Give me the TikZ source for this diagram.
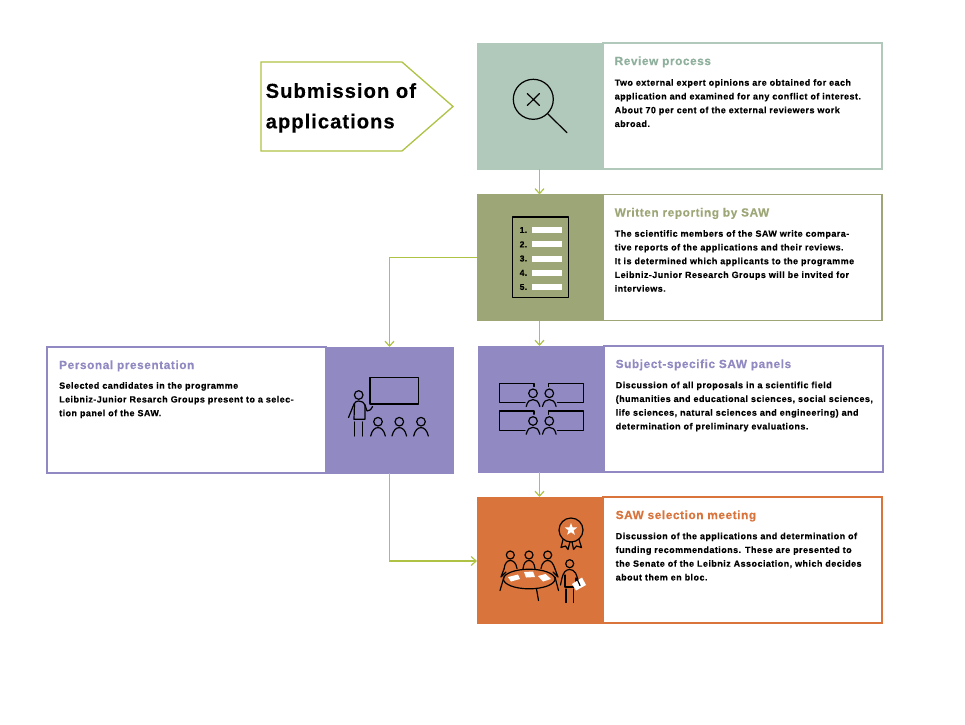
\documentclass[tikz,border=0pt]{standalone}
\usepackage{fontspec}
\setmainfont{Liberation Sans}[BoldFont={Liberation Sans Bold},BoldFeatures={FakeBold=0.25},LetterSpace=5]
\usetikzlibrary{arrows.meta,shapes.geometric}
\definecolor{cgreen}{HTML}{B0C9BA}
\definecolor{cgreent}{HTML}{8FB09C}
\definecolor{colive}{HTML}{9DA676}
\definecolor{cpurple}{HTML}{9189C2}
\definecolor{corange}{HTML}{D9743C}
\definecolor{clime}{HTML}{AFC244}
\tikzset{
  iconbox/.style={draw=#1,fill=#1,line width=0.8pt,minimum height=126pt,inner sep=0pt,outer sep=0pt,anchor=north west},
  textbox/.style={draw=#1,fill=white,line width=1.2pt,minimum height=126pt,inner sep=0pt,outer sep=0pt,anchor=north west},
  boxtitle/.style={anchor=base west,inner sep=0pt,text=#1,font=\bfseries\fontsize{11.8}{13}\selectfont},
  boxbody/.style={anchor=north west,inner sep=0pt,align=left,font=\bfseries\fontsize{9}{13.75}\selectfont,execute at begin node={\rule{0pt}{7pt}}},
  flow/.style={draw=clime,line width=1.2pt,-{Straight Barb[length=5pt,width=9pt,line width=1.2pt]}},
  ico/.style={draw=black,line width=1.2pt,line cap=round,line join=round},
  paper/.style={fill=white,draw=none},
}
\begin{document}
\begin{tikzpicture}[x=1pt,y=-1pt]
\useasboundingbox (0,0) rectangle (965,724);
% pentagon
\node[inner sep=0pt,anchor=north west,align=left,font=\bfseries\fontsize{20.2}{30.5}\selectfont,execute at begin node={\rule{0pt}{16pt}}] (subm) at (265.5,83) {Submission of\\applications};
\draw[clime,line width=1.3pt,line join=miter] (261,62) -- (402,62) -- (453,106.5) -- (402,151) -- (261,151) -- cycle;
% boxes
\node[textbox=cgreen,minimum width=279pt] (rt) at (603,43) {};
\node[iconbox=cgreen,minimum width=126pt] (ri) at (477,43) {};
\node[textbox=colive,minimum width=279pt] (wt) at (603,194.5) {};
\node[iconbox=colive,minimum width=126pt] (wi) at (477,194.5) {};
\node[textbox=cpurple,minimum width=279pt] (st) at (604,346) {};
\node[iconbox=cpurple,minimum width=126pt] (si) at (478,346) {};
\node[textbox=corange,minimum width=279pt] (mt) at (603,497) {};
\node[iconbox=corange,minimum width=126pt] (mi) at (477,497) {};
\node[textbox=cpurple,minimum width=279pt] (pt) at (47,347) {};
\node[iconbox=cpurple,minimum width=127pt] (pi) at (326,347) {};
% connectors
\coordinate (c0) at (539.5,0);
\draw[flow] (ri.south -| c0) -- (wi.north -| c0);
\draw[flow] (wi.south -| c0) -- (si.north -| c0);
\draw[flow] (si.south -| c0) -- (mi.north -| c0);
\coordinate (c1) at (389.5,257.5);
\draw[flow] (c1 -| wi.west) -- (c1) -- (c1 |- pi.north);
\coordinate (c2) at (389.5,561);
\draw[flow] (c2 |- pi.south) -- (c2) -- (c2 -| mi.west);
% texts
\node[boxtitle=cgreent] (rh) at (614.5,65) {Review process};
\node[boxbody] (rb) at (614.5,79) {Two external expert opinions are obtained for each\\application and examined for any conflict of interest.\\About 70 per cent of the external reviewers work\\abroad.};
\node[boxtitle=colive] (wh) at (614.5,216.5) {Written reporting by SAW};
\node[boxbody] (wb) at (614.5,230) {The scientific members of the SAW write compara-\\tive reports of the applications and their reviews.\\It is determined which applicants to the programme\\Leibniz-Junior Research Groups will be invited for\\interviews.};
\node[boxtitle=cpurple] (sh) at (615.5,368) {Subject-specific SAW panels};
\node[boxbody] (sb) at (615.5,381.5) {Discussion of all proposals in a scientific field\\(humanities and educational sciences, social sciences,\\life sciences, natural sciences and engineering) and\\determination of preliminary evaluations.};
\node[boxtitle=corange] (mh) at (615.5,519) {SAW selection meeting};
\node[boxbody] (mb) at (615.5,532.5) {Discussion of the applications and determination of\\funding recommendations. These are presented to\\the Senate of the Leibniz Association, which decides\\about them en bloc.};
\node[boxtitle=cpurple] (ph) at (59,369) {Personal presentation};
\node[boxbody] (pb) at (59,382) {Selected candidates in the programme\\Leibniz-Junior Resarch Groups present to a selec-\\tion panel of the SAW.};
% magnifier
\draw[ico] (533.3,99.3) circle (20);
\draw[ico] (547.7,113.8) -- (567,132.7);
\draw[ico] (527.3,93.5) -- (539.5,105.5) (539.5,93.5) -- (527.3,105.5);
% list
\draw[ico,line cap=butt] (512.7,217) rectangle (568.3,297.7);
\foreach \n/\y in {1/230,2/244.3,3/258.5,4/272.8,5/287}{
  \node[inner sep=0pt,font=\bfseries\fontsize{8.6}{10}\selectfont] (li\n) at (523.5,\y) {\n.};
  \fill[white] (531.7,\y-3) rectangle (561.7,\y+3);
}
% panels
\foreach \dy in {0,27.7}{
  \begin{scope}[yshift=-\dy pt]
  \draw[ico] (534,386.5) -- (534,383.3) -- (499.3,383.3) -- (499.3,402.7) -- (525,402.7);
  \draw[ico] (548.3,386.5) -- (548.3,383.3) -- (583.3,383.3) -- (583.3,402.7) -- (557.5,402.7);
  \foreach \x in {533,549.3}{
    \draw[ico] (\x,393.3) circle (4.3);
    \draw[ico] (\x-6.8,406.5) .. controls (\x-5.5,401) and (\x-3,399.6) .. (\x,399.6) .. controls (\x+3,399.6) and (\x+5.5,401) .. (\x+6.8,406.5);
  }
  \end{scope}
}
% presenter
\draw[ico,line cap=butt] (370,377.3) rectangle (418.3,404);
\draw[ico] (358.7,395) circle (4.3);
\draw[ico] (348.5,417.5) -- (354,404) .. controls (355,401.5) and (357,401) .. (358.7,401) .. controls (362,401) and (364,402.5) .. (365,405) -- (367,411) .. controls (369,411) and (371,410) .. (372.5,406.5);
\draw[ico] (354.5,404) -- (354,419.3) -- (365,419.3) -- (365,405);
\draw[ico] (354.3,422) -- (354.3,436) (362.3,422) -- (362.3,436);
\foreach \x in {378,399.3,421}{
  \draw[ico] (\x,421.7) circle (4.3);
  \draw[ico] (\x-7.3,436) .. controls (\x-6,430) and (\x-3,427.6) .. (\x,427.6) .. controls (\x+3,427.6) and (\x+6,430) .. (\x+7.3,436);
}
% medal
\draw[ico] (571,530) circle (12);
\node[star,star points=5,star point ratio=2.4,fill=white,inner sep=0pt,minimum size=13pt] (medalstar) at (571,529.5) {};
\draw[ico] (563,539.5) -- (561,547.5) -- (565.5,546) -- (568,549.5) -- (570,541.5);
\draw[ico] (579,539.5) -- (581.5,547.5) -- (576.5,546) -- (573.5,549.5) -- (572,541.5);
% meeting
\foreach \x in {510.3,529,547.7}{
  \draw[ico] (\x,555) circle (4);
}
\draw[ico] (504,569) .. controls (505,563) and (507,560.5) .. (510.3,560.5) .. controls (513.5,560.5) and (516,563) .. (517,568.5);
\draw[ico] (523,569) .. controls (523.5,563) and (526,560.5) .. (529,560.5) .. controls (532,560.5) and (534.5,563) .. (535,569);
\draw[ico] (541,568.5) .. controls (542,563) and (544.5,560.5) .. (547.7,560.5) .. controls (551,560.5) and (553,563) .. (555,569);
\draw[ico] (504,569) -- (501,577) -- (506,572);
\draw[ico] (555,569) -- (558,577) -- (553,572);
\draw[ico] (529.2,579) ellipse (25.8 and 9.8);
\draw[ico] (504,577) -- (500,590.5) (555,577) -- (558.5,590.5) (536.5,589) -- (538.5,600.5);
\fill[paper] (508,577) -- (518,574.5) -- (520,579) -- (511,581.5) -- cycle;
\fill[paper] (524,572) -- (533,571.5) -- (535,577) -- (526,577.5) -- cycle;
\fill[paper] (538,576) -- (545.5,574) -- (551,579) -- (543,581.5) -- cycle;
% standing person
\draw[ico] (569.7,563.7) circle (4);
\draw[ico] (560.5,585) .. controls (561.5,580) and (562.5,574) .. (565,571.5) .. controls (566.5,570) and (568,569.5) .. (569.7,569.5) .. controls (572,569.5) and (574,570.5) .. (575.5,573) .. controls (577,576) and (578,580) .. (579.5,585);
\draw[ico] (565,575) -- (565,587) -- (576,587) -- (576,578);
\draw[ico] (566,589) -- (566,602.5) (573.5,589) -- (573.5,602.5);
\fill[paper] (572,584) -- (582,577.5) -- (586,585) -- (576,590.5) -- cycle;
\draw[ico] (577.5,580) -- (580,585.5);
\end{tikzpicture}
\end{document}
